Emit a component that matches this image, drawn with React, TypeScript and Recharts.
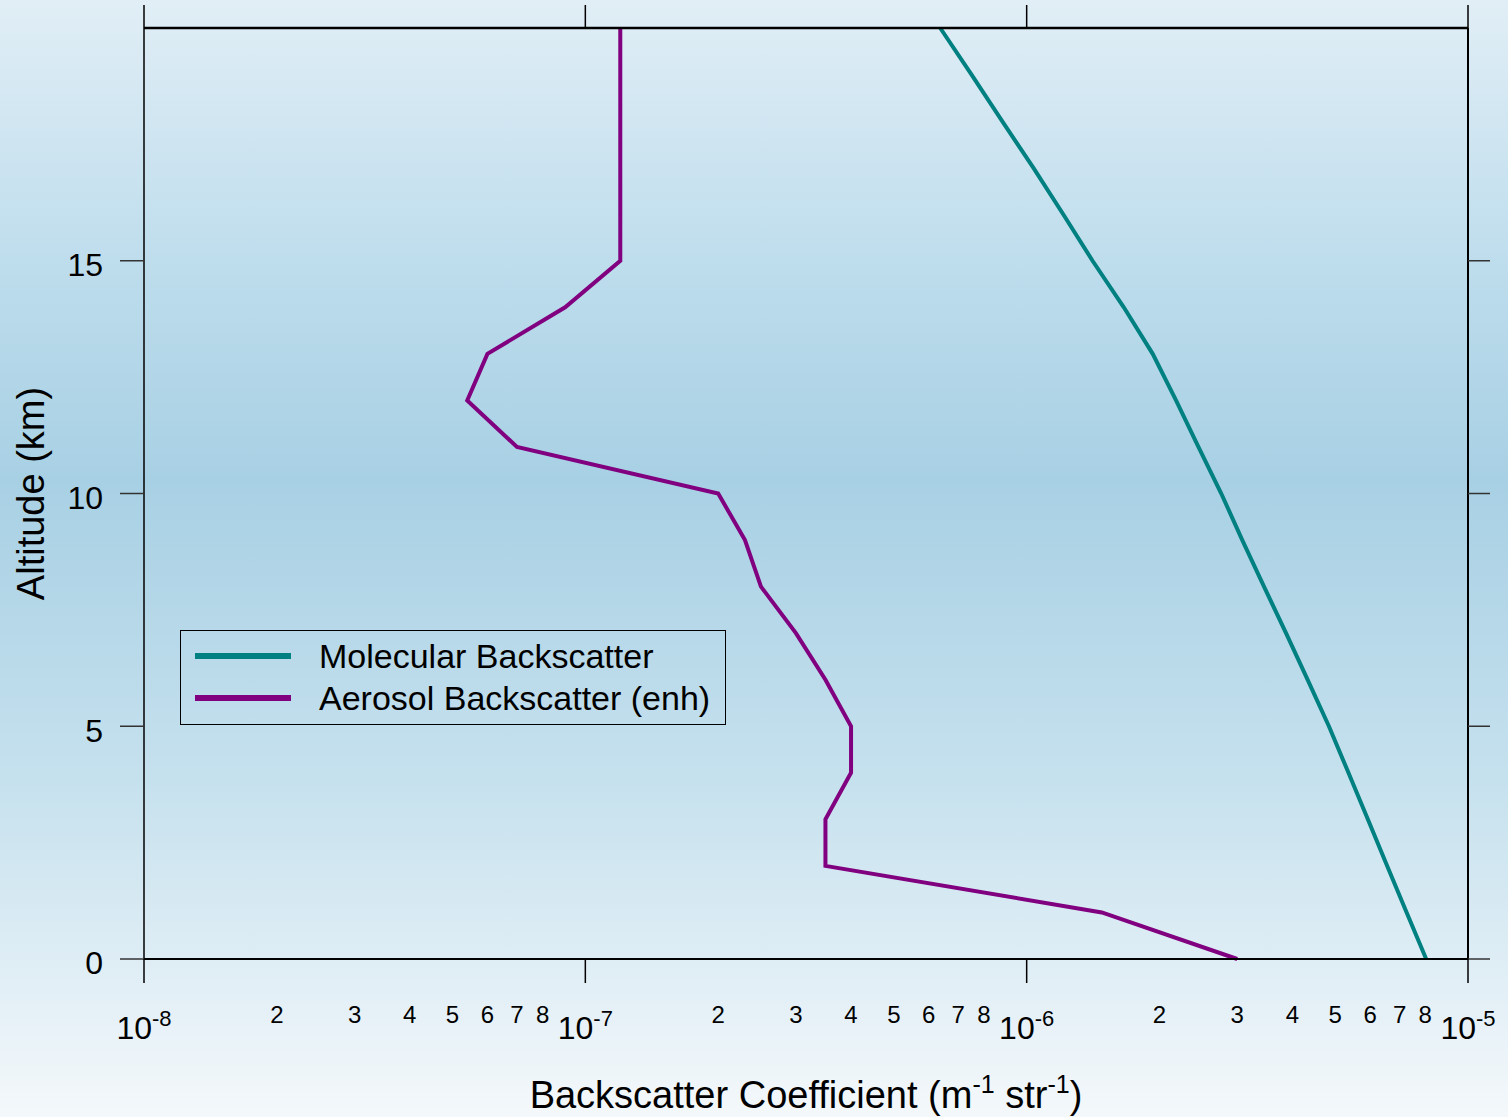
import { Label, Line, LineChart, XAxis, YAxis } from "recharts";

const FONT = '"Liberation Sans", Arial, sans-serif';

// altitude in km, backscatter in m^-1 sr^-1
const altitudes = [0, 1, 2, 3, 4, 5, 6, 7, 8, 9, 10, 11, 12, 13, 14, 15, 16, 17, 18, 19, 20];
const molecular = [
  8.04e-6, 7.26e-6, 6.56e-6, 5.93e-6, 5.36e-6, 4.84e-6, 4.33e-6, 3.87e-6, 3.45e-6, 3.08e-6, 2.76e-6,
  2.45e-6, 2.18e-6, 1.93e-6, 1.66e-6, 1.41e-6, 1.21e-6, 1.035e-6, 8.8e-7, 7.5e-7, 6.37e-7,
];
const aerosol = [
  3.0e-6, 1.48e-6, 3.5e-7, 3.5e-7, 4.0e-7, 4.0e-7, 3.5e-7, 3.0e-7, 2.5e-7, 2.3e-7, 2.0e-7,
  7.0e-8, 5.4e-8, 6.0e-8, 9.0e-8, 1.2e-7, 1.2e-7, 1.2e-7, 1.2e-7, 1.2e-7, 1.2e-7,
];

const decadeTicks = [1e-8, 1e-7, 1e-6, 1e-5];
const minorDigits = [2, 3, 4, 5, 6, 7, 8];
const altitudeTicks = [0, 5, 10, 15];

const seriesNames = ["Molecular Backscatter", "Aerosol Backscatter (enh)"];
const seriesColors = ["#008080", "#800080"];

const data = altitudes.map((alt, i) => ({ alt, mol: molecular[i], aer: aerosol[i] }));

const bottomTicks: number[] = [];
decadeTicks.forEach((d, i) => {
  bottomTicks.push(d);
  if (i < decadeTicks.length - 1) minorDigits.forEach((m) => bottomTicks.push(m * d));
});

const BottomTick = (props: any) => {
  const { x, y, payload } = props;
  const v = payload.value;
  const lg = Math.log10(v);
  const e = Math.round(lg);
  if (Math.abs(lg - e) < 1e-6) {
    return (
      <g>
        <line x1={x} x2={x} y1={y - 24} y2={y} stroke="#000" strokeWidth={1.5} />
        <text x={x} y={y + 56} textAnchor="middle" fontSize={32} fill="#000" fontFamily={FONT}>
          10
          <tspan dy={-13} fontSize={22}>
            {e}
          </tspan>
        </text>
      </g>
    );
  }
  const digit = Math.round(v / Math.pow(10, Math.floor(lg + 1e-9)));
  return (
    <text x={x} y={y + 40} textAnchor="middle" fontSize={24} fill="#000" fontFamily={FONT}>
      {digit}
    </text>
  );
};

const EmptyTick = () => <g />;

const XTitle = (props: any) => {
  const { x, y, width } = props.viewBox;
  return (
    <text x={x + width / 2} y={y + 149} textAnchor="middle" fontSize={38} fill="#000" fontFamily={FONT}>
      Backscatter Coefficient (m
      <tspan dy={-15} fontSize={25}>-1</tspan>
      <tspan dy={15}> str</tspan>
      <tspan dy={-15} fontSize={25}>-1</tspan>
      <tspan dy={15}>)</tspan>
    </text>
  );
};

const YTitle = (props: any) => {
  const { x, y, height } = props.viewBox;
  const cx = x + 31;
  const cy = y + height / 2;
  return (
    <text
      x={cx}
      y={cy}
      transform={`rotate(-90 ${cx} ${cy})`}
      textAnchor="middle"
      dominantBaseline="central"
      fontSize={38}
      fill="#000"
      fontFamily={FONT}
    >
      Altitude (km)
    </text>
  );
};

export default function App() {
  return (
    <div
      style={{
        position: "absolute",
        left: 0,
        top: 0,
        width: 1508,
        height: 1117,
        background: "linear-gradient(to bottom, #e1eef6 0%, #bcdcec 25%, #a8d0e4 43%, #c6e1ee 70%, #f4f8fb 100%)",
        fontFamily: FONT,
      }}
    >
      <LineChart
        width={1508}
        height={1117}
        data={data}
        layout="vertical"
        margin={{ top: 0, right: 0, bottom: 0, left: 0 }}
      >
        <XAxis
          xAxisId="bottom"
          type="number"
          dataKey="mol"
          scale="log"
          domain={[1e-8, 1e-5]}
          allowDataOverflow
          ticks={bottomTicks}
          interval={0}
          height={158}
          tickSize={24}
          tickMargin={0}
          tickLine={false}
          tick={BottomTick}
          axisLine={{ stroke: "#000", strokeWidth: 2 }}
        >
          <Label content={XTitle} />
        </XAxis>
        <XAxis
          xAxisId="top"
          orientation="top"
          type="number"
          scale="log"
          domain={[1e-8, 1e-5]}
          allowDataOverflow
          ticks={decadeTicks}
          interval={0}
          height={28}
          tickSize={23}
          tick={EmptyTick}
          tickLine={{ stroke: "#000", strokeWidth: 1.5 }}
          axisLine={{ stroke: "#000", strokeWidth: 2.5 }}
        />
        <YAxis
          yAxisId="left"
          type="number"
          dataKey="alt"
          domain={[0, 20]}
          reversed
          ticks={altitudeTicks}
          interval={0}
          width={144}
          tickSize={24}
          tickMargin={17}
          tick={{ fontSize: 32, fill: "#000", fontFamily: FONT, dy: 4 }}
          tickLine={{ stroke: "#333", strokeWidth: 1.5 }}
          axisLine={{ stroke: "#000", strokeWidth: 1.5 }}
        >
          <Label content={YTitle} />
        </YAxis>
        <YAxis
          yAxisId="right"
          orientation="right"
          type="number"
          dataKey="alt"
          domain={[0, 20]}
          reversed
          ticks={altitudeTicks}
          interval={0}
          width={40}
          tickSize={22}
          tick={EmptyTick}
          tickLine={{ stroke: "#333", strokeWidth: 1.5 }}
          axisLine={{ stroke: "#000", strokeWidth: 2 }}
        />
        <Line
          xAxisId="bottom"
          yAxisId="left"
          dataKey="mol"
          name={seriesNames[0]}
          stroke={seriesColors[0]}
          strokeWidth={4}
          dot={false}
          type="linear"
          isAnimationActive={false}
        />
        <Line
          xAxisId="bottom"
          yAxisId="left"
          dataKey="aer"
          name={seriesNames[1]}
          stroke={seriesColors[1]}
          strokeWidth={4}
          dot={false}
          type="linear"
          isAnimationActive={false}
        />
      </LineChart>
      <div
        style={{
          position: "absolute",
          left: 180,
          top: 630,
          width: 546,
          height: 95,
          boxSizing: "border-box",
          border: "1.5px solid #000",
          paddingTop: 4,
        }}
      >
        {seriesNames.map((name, i) => (
          <div key={name} style={{ display: "flex", alignItems: "center", height: 42 }}>
            <svg width={138} height={42} style={{ flex: "none" }}>
              <line x1={14} x2={110} y1={21} y2={21} stroke={seriesColors[i]} strokeWidth={6} />
            </svg>
            <span style={{ fontSize: 34, color: "#000", whiteSpace: "nowrap" }}>{name}</span>
          </div>
        ))}
      </div>
    </div>
  );
}
